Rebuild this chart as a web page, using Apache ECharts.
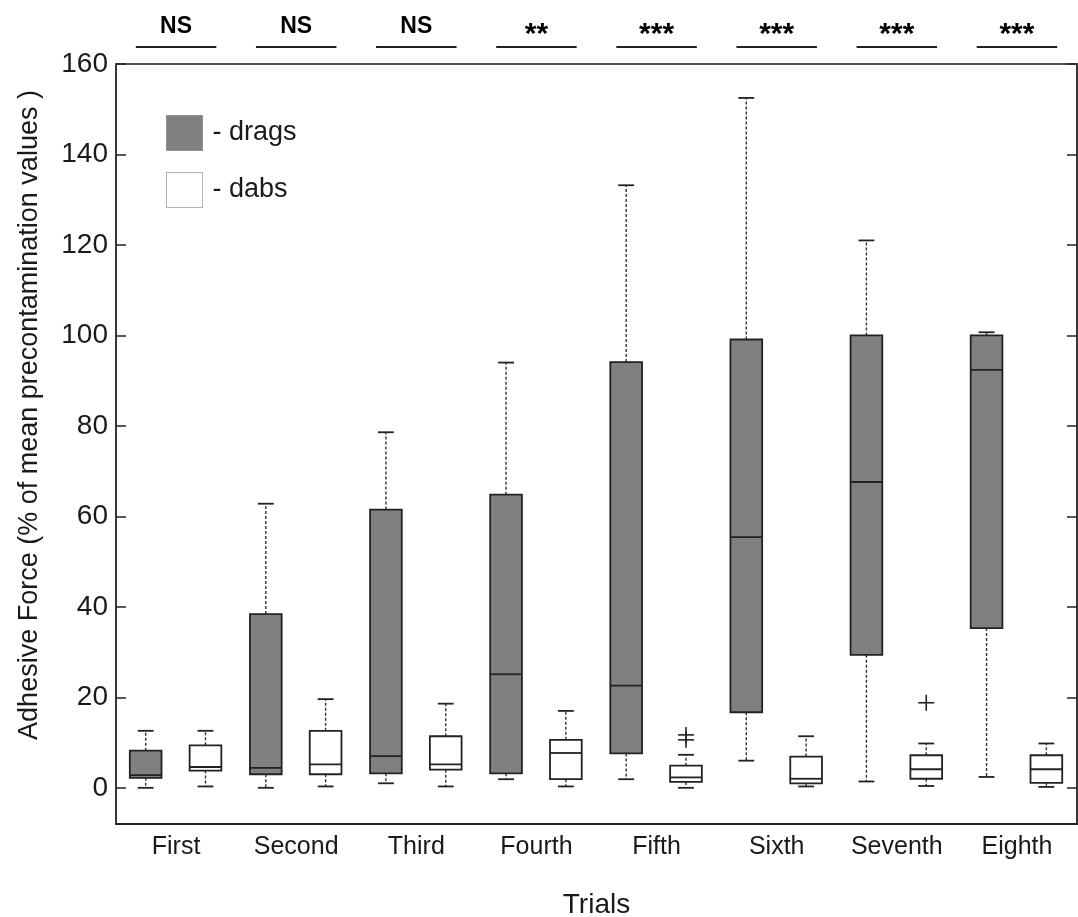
<!DOCTYPE html>
<html><head><meta charset="utf-8">
<script src="https://cdn.jsdelivr.net/npm/echarts@6/dist/echarts.min.js"></script>
<style>html,body{margin:0;padding:0;background:#fff}#c{width:1078px;height:917px}</style>
</head><body><div id="c"></div>
<script>
const categories = ['First','Second','Third','Fourth','Fifth','Sixth','Seventh','Eighth'];
// each row: [min, Q1, median, Q3, max]
const drags = [
  [0.0, 2.2, 2.8, 8.2, 12.6],
  [0.0, 3.0, 4.4, 38.4, 62.8],
  [1.0, 3.2, 7.0, 61.5, 78.6],
  [1.9, 3.2, 25.1, 64.8, 94.0],
  [1.9, 7.6, 22.6, 94.1, 133.2],
  [6.0, 16.7, 55.4, 99.1, 152.5],
  [1.4, 29.4, 67.6, 100.0, 121.0],
  [2.4, 35.3, 92.4, 100.0, 100.7]
];
const dabs = [
  [0.3, 3.8, 4.6, 9.4, 12.6],
  [0.3, 3.0, 5.2, 12.6, 19.6],
  [0.3, 4.0, 5.2, 11.4, 18.6],
  [0.3, 1.9, 7.7, 10.6, 17.0],
  [0.0, 1.3, 2.3, 4.9, 7.3],
  [0.3, 1.0, 2.0, 6.9, 11.4],
  [0.4, 2.0, 4.1, 7.2, 9.8],
  [0.2, 1.1, 4.1, 7.2, 9.8]
];
const dabOutliers = [[4, 10.6], [4, 11.7], [6, 18.8]];
const significance = ['NS','NS','NS','**','***','***','***','***'];
const yTickValues = [0, 20, 40, 60, 80, 100, 120, 140, 160];

const FONT = 'Liberation Sans, Arial, sans-serif';
const INK = '#1a1a1a';

function boxRenderer(offset, fill) {
  return function (params, api) {
    const i = api.value(0);
    const band = api.size([1, 0])[0];
    const cx = api.coord([i, 0])[0] + offset * band;
    const y = k => api.coord([i, api.value(k)])[1];
    const yMin = y(1), yQ1 = y(2), yMed = y(3), yQ3 = y(4), yMax = y(5);
    const hw = band * 0.132, cw = band * 0.066;
    const stroke = '#222';
    const dash = { stroke: '#333', lineWidth: 1.4, lineDash: [3, 2] };
    const solid = { stroke, lineWidth: 1.8 };
    return { type: 'group', children: [
      { type: 'line', shape: { x1: cx, y1: yQ3, x2: cx, y2: yMax }, style: dash },
      { type: 'line', shape: { x1: cx, y1: yQ1, x2: cx, y2: yMin }, style: dash },
      { type: 'line', shape: { x1: cx - cw, y1: yMax, x2: cx + cw, y2: yMax }, style: solid },
      { type: 'line', shape: { x1: cx - cw, y1: yMin, x2: cx + cw, y2: yMin }, style: solid },
      { type: 'rect', shape: { x: cx - hw, y: yQ3, width: 2 * hw, height: yQ1 - yQ3 }, style: { fill, stroke, lineWidth: 1.8 } },
      { type: 'line', shape: { x1: cx - hw, y1: yMed, x2: cx + hw, y2: yMed }, style: solid }
    ]};
  };
}

function outlierRenderer(offset) {
  return function (params, api) {
    const i = api.value(0);
    const band = api.size([1, 0])[0];
    const p = api.coord([i, api.value(1)]);
    const cx = p[0] + offset * band, cy = p[1];
    const s = 8;
    const st = { stroke: '#222', lineWidth: 1.6 };
    return { type: 'group', children: [
      { type: 'line', shape: { x1: cx - s, y1: cy, x2: cx + s, y2: cy }, style: st },
      { type: 'line', shape: { x1: cx, y1: cy - s, x2: cx, y2: cy + s }, style: st }
    ]};
  };
}

function sigRenderer(params, api) {
  const i = api.value(0);
  const band = api.size([1, 0])[0];
  const p = api.coord([i, 160]);
  const lineY = p[1] - 17;
  const half = band * 0.335;
  const lbl = significance[i];
  const isNS = lbl === 'NS';
  return { type: 'group', children: [
    { type: 'line', shape: { x1: p[0] - half, y1: lineY, x2: p[0] + half, y2: lineY }, style: { stroke: '#222', lineWidth: 1.8 } },
    { type: 'text', x: p[0], y: isNS ? lineY - 9 : lineY + 3,
      style: { text: lbl, fill: '#000', font: (isNS ? 'bold 23px ' : 'bold 30px ') + FONT, textAlign: 'center', textVerticalAlign: 'bottom' } }
  ]};
}

const chart = echarts.init(document.getElementById('c'), null, { renderer: 'canvas' });
chart.setOption({
  backgroundColor: '#fff',
  animation: false,
  grid: { left: 116, right: 1, top: 64, bottom: 93, containLabel: false, outerBoundsMode: 'none' },
  legend: {
    orient: 'vertical', left: 166, top: 115, itemWidth: 36, itemHeight: 35, itemGap: 21, padding: 0,
    formatter: '- {name}',
    textStyle: { fontFamily: FONT, fontSize: 27, color: INK, padding: [0, 0, 0, 5] },
    data: [
      { name: 'drags', icon: 'rect', itemStyle: { color: '#808080', borderColor: '#666', borderWidth: 1, borderType: 'dotted' } },
      { name: 'dabs', icon: 'rect', itemStyle: { color: '#fff', borderColor: '#666', borderWidth: 1, borderType: 'dotted' } }
    ]
  },
  xAxis: [
    { type: 'category', data: categories, position: 'bottom',
      axisLine: { onZero: false, lineStyle: { color: '#222', width: 1.8 } },
      axisTick: { inside: true, alignWithLabel: true, length: 12, lineStyle: { color: '#222', width: 1.5 } },
      axisLabel: { fontFamily: FONT, fontSize: 25, color: INK, margin: 11 },
      name: 'Trials', nameLocation: 'middle', nameGap: 67,
      nameTextStyle: { fontFamily: FONT, fontSize: 28, color: INK } },
    { type: 'category', data: categories, position: 'top',
      axisLine: { onZero: false, lineStyle: { color: '#555', width: 2 } },
      axisTick: { inside: true, alignWithLabel: true, length: 9, lineStyle: { color: '#222', width: 1.5 } },
      axisLabel: { show: false } }
  ],
  yAxis: [
    { type: 'value', min: -8, max: 160, position: 'left',
      splitLine: { show: false },
      axisLine: { show: true, onZero: false, lineStyle: { color: '#222', width: 1.8 } },
      axisTick: { show: true, inside: true, length: 10, customValues: yTickValues, lineStyle: { color: '#222', width: 1.5 } },
      axisLabel: { fontFamily: FONT, fontSize: 28, color: INK, margin: 8, customValues: yTickValues } },
    { type: 'value', min: -8, max: 160, position: 'right',
      splitLine: { show: false },
      axisLine: { show: true, onZero: false, lineStyle: { color: '#222', width: 1.8 } },
      axisTick: { show: true, inside: true, length: 10, customValues: yTickValues, lineStyle: { color: '#222', width: 1.5 } },
      axisLabel: { show: false } }
  ],
  graphic: [
    { type: 'text', x: 30, y: 415, rotation: Math.PI / 2,
      style: { text: 'Adhesive Force (% of mean precontamination values )', font: '27px ' + FONT, fill: INK, textAlign: 'center', textVerticalAlign: 'middle' } }
  ],
  series: [
    { name: 'drags', type: 'custom', renderItem: boxRenderer(-0.253, '#808080'),
      itemStyle: { color: '#808080' },
      encode: { x: 0, y: [1, 2, 3, 4, 5] },
      data: drags.map((d, i) => [i, ...d]) },
    { name: 'dabs', type: 'custom', renderItem: boxRenderer(0.245, '#ffffff'),
      itemStyle: { color: '#ffffff' },
      encode: { x: 0, y: [1, 2, 3, 4, 5] },
      data: dabs.map((d, i) => [i, ...d]) },
    { name: 'dabOutliers', type: 'custom', renderItem: outlierRenderer(0.245),
      encode: { x: 0, y: 1 }, data: dabOutliers },
    { name: 'significance', type: 'custom', renderItem: sigRenderer, clip: false,
      encode: { x: 0 }, data: significance.map((s, i) => [i]) }
  ]
});
</script></body></html>
